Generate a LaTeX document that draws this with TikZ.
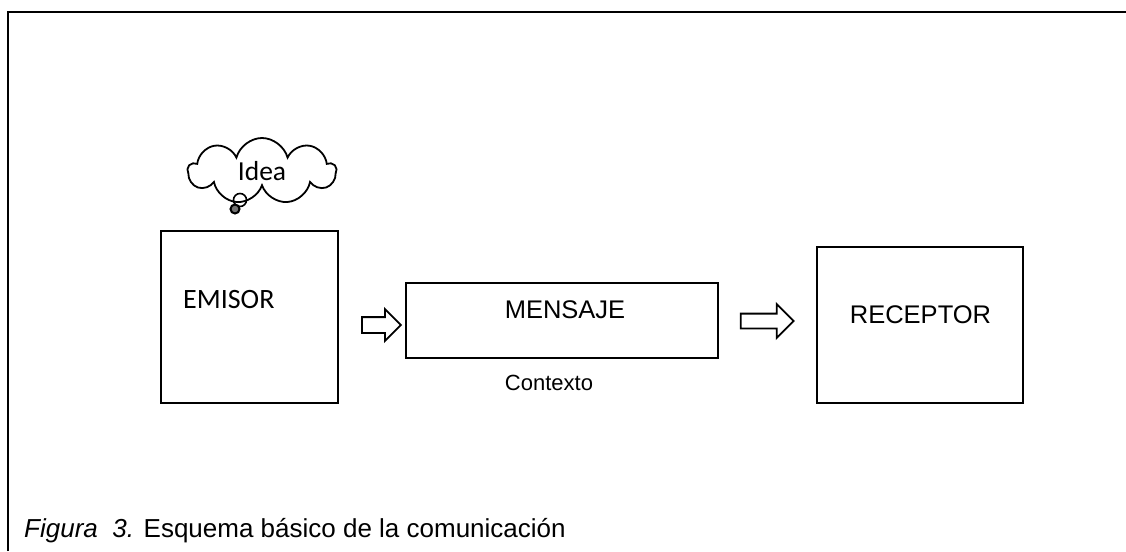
\documentclass[tikz,border=0pt]{standalone}
\usepackage{fontspec}
\setmainfont{Liberation Sans}
\newfontfamily\calibrifont{Carlito}
\usetikzlibrary{shapes.symbols,shapes.arrows}

\tikzset{
  box/.style={draw, line width=2pt, rectangle, inner sep=0pt},
  hollowarrow/.style={draw, single arrow, line width=1.8pt, inner sep=7pt,
    single arrow head extend=8pt, single arrow tip angle=90,
    single arrow head indent=0pt},
  bigtext/.style={font=\fontsize{25.5}{28}\selectfont, inner sep=0pt}
}

\begin{document}
\begin{tikzpicture}[x=1pt,y=-1pt]
        \useasboundingbox (0,0) rectangle (1126,551);
        % frame
        \draw[line width=2.8pt] (8,551) -- (8,12) -- (1126,12);
        % idea cloud
        \node[cloud, draw, line width=1.8pt, cloud puffs=9, aspect=2.2,
              minimum width=148pt, minimum height=66pt, inner sep=0pt,
              font=\calibrifont\fontsize{27.5}{30}\selectfont] (idea) at (262,171) {Idea};
        \draw[line width=1.6pt] (240,200) circle (6.5pt);
        \draw[line width=2pt, fill=black!55] (235,209) circle (4.5pt);
        % boxes
        \node[box, minimum width=177pt, minimum height=172pt] (emisor) at (249.5,317) {};
        \node[anchor=base west, inner sep=0pt,
              font=\calibrifont\fontsize{28}{30}\selectfont] (emisortext) at (183,308) {EMISOR};
        \node[box, minimum width=312pt, minimum height=75pt] (mensaje) at (562,320.5) {};
        \node[bigtext, anchor=base] (mensajetext) at (565,318) {MENSAJE};
        \node[anchor=base, inner sep=0pt, font=\fontsize{22}{24}\selectfont] (contexto) at (549,390) {Contexto};
        \node[box, minimum width=206pt, minimum height=156pt] (receptor) at (920,325) {};
        \node[bigtext, anchor=base] (receptortext) at (920.5,323) {RECEPTOR};
        % arrows
        \node[hollowarrow, minimum height=39pt, minimum width=30pt] (flechauno) at (377.5,325) {};
        \node[hollowarrow, minimum height=53pt, minimum width=32pt, inner sep=6.5pt,
              single arrow head extend=9.5pt] (flechados) at (763.5,321) {};
        % caption
        \node[anchor=base west, inner sep=0pt, font=\fontsize{26}{28}\selectfont] (caption) at (24,537)
             {\textit{Figura\ \ 3.} Esquema básico de la comunicación};
\end{tikzpicture}
\end{document}
